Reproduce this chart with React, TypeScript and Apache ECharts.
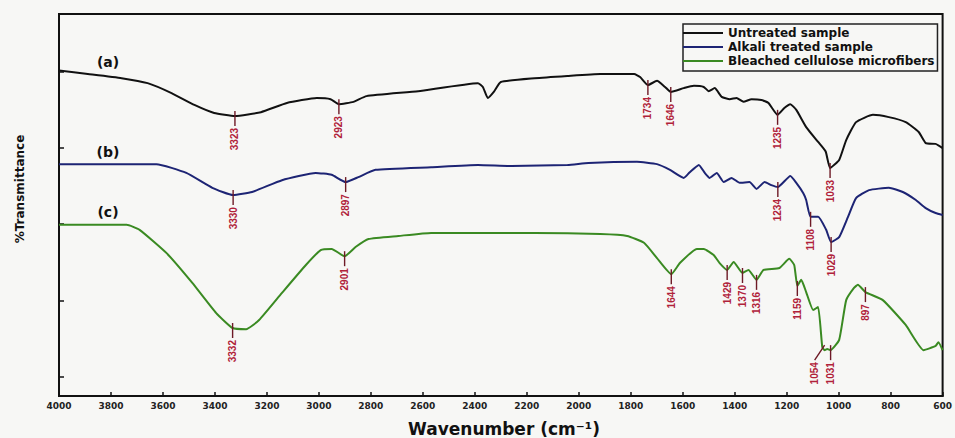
import React, { useEffect, useRef } from "react";
import * as echarts from "echarts";

const seriesNames = ["Untreated sample", "Alkali treated sample", "Bleached cellulose microfibers"];
const curveTags = ["(a)", "(b)", "(c)"];
const curveColors = ["#111111", "#1d2474", "#3a8a22"];

// Untreated sample (a)
const untreatedWn = [4000, 3889, 3759, 3659, 3567, 3479, 3403, 3323, 3223, 3123, 3008, 2955, 2923, 2867, 2817, 2618, 2388, 2369, 2350, 2327, 2300, 2170, 2044, 1917, 1787, 1764, 1734, 1699, 1668, 1646, 1596, 1557, 1519, 1500, 1477, 1450, 1419, 1393, 1366, 1335, 1297, 1270, 1235, 1209, 1186, 1163, 1125, 1079, 1050, 1033, 998, 971, 933, 868, 807, 742, 692, 665, 627, 600];
const untreatedT = [85.2, 84.3, 83.2, 81.9, 79.3, 76.2, 74.1, 73.3, 74.3, 76.7, 78.0, 77.7, 76.4, 77.0, 78.5, 79.8, 81.9, 80.9, 78.0, 79.6, 82.2, 83.2, 83.8, 84.3, 84.3, 83.5, 81.4, 82.5, 80.9, 79.6, 80.6, 81.2, 80.9, 79.8, 80.6, 78.3, 77.7, 78.0, 77.0, 77.7, 77.5, 76.7, 73.6, 75.4, 76.4, 74.9, 70.4, 66.5, 64.0, 59.7, 61.8, 67.0, 71.7, 73.6, 73.0, 71.7, 69.1, 66.2, 66.0, 64.9];
const untreatedPeaks = [3323, 2923, 1734, 1646, 1235, 1033];

// Alkali treated sample (b)
const alkaliWn = [4000, 3625, 3510, 3410, 3330, 3257, 3142, 3012, 2951, 2897, 2848, 2782, 2568, 2388, 2258, 2043, 1963, 1776, 1699, 1649, 1596, 1573, 1538, 1515, 1496, 1469, 1442, 1412, 1381, 1343, 1316, 1285, 1259, 1234, 1186, 1163, 1136, 1125, 1108, 1079, 1048, 1029, 998, 964, 933, 883, 807, 753, 703, 665, 627, 600];
const alkaliT = [60.7, 60.7, 58.4, 54.5, 52.6, 53.4, 56.5, 58.4, 57.9, 56.0, 57.3, 59.2, 59.9, 60.5, 60.2, 60.5, 61.0, 61.3, 60.7, 59.2, 57.1, 58.6, 60.5, 58.4, 57.1, 58.4, 56.0, 57.1, 55.8, 56.0, 54.2, 56.0, 55.2, 54.7, 57.6, 55.8, 53.1, 51.3, 46.9, 46.9, 43.5, 40.3, 41.6, 46.9, 51.8, 53.9, 54.5, 53.4, 51.3, 49.2, 47.9, 47.4];
const alkaliPeaks = [3330, 2897, 1234, 1108, 1029];

// Bleached cellulose microfibers (c)
const bleachedWn = [4000, 3740, 3690, 3586, 3487, 3395, 3332, 3280, 3230, 3142, 3050, 2993, 2951, 2901, 2859, 2809, 2694, 2568, 2388, 2170, 1917, 1814, 1749, 1699, 1644, 1611, 1546, 1519, 1481, 1458, 1429, 1404, 1370, 1347, 1316, 1289, 1228, 1190, 1171, 1159, 1144, 1125, 1098, 1079, 1063, 1054, 1044, 1031, 998, 971, 941, 926, 897, 830, 742, 673, 627, 616, 600];
const bleachedT = [44.8, 44.8, 43.5, 37.4, 29.6, 21.7, 17.8, 17.5, 19.9, 27.0, 34.3, 38.2, 38.5, 36.6, 39.0, 41.1, 41.9, 42.7, 42.7, 42.7, 42.4, 41.9, 40.1, 36.1, 31.9, 34.8, 38.5, 38.5, 36.9, 34.8, 33.0, 35.1, 32.2, 33.0, 30.4, 33.0, 33.5, 35.9, 34.3, 28.8, 30.4, 27.2, 22.5, 23.3, 12.8, 12.0, 12.3, 12.0, 14.7, 25.1, 28.3, 29.1, 27.2, 25.1, 18.6, 12.0, 13.1, 14.1, 12.0];
const bleachedPeaks = [3332, 2901, 1644, 1429, 1370, 1316, 1159, 1054, 1031, 897];

const yTickValues = [5, 25, 45, 65, 85];

const labelNudge: Record<number, number> = { 1054: -10 };

function valueAt(wn: number[], t: number[], w: number): number {
  const i = wn.indexOf(w);
  if (i >= 0) return t[i];
  for (let k = 0; k < wn.length - 1; k++) {
    if ((wn[k] - w) * (wn[k + 1] - w) <= 0) {
      const f = (w - wn[k]) / (wn[k + 1] - wn[k]);
      return t[k] + f * (t[k + 1] - t[k]);
    }
  }
  return t[t.length - 1];
}

export default function App() {
  const ref = useRef<HTMLDivElement>(null);
  useEffect(() => {
    document.body.style.margin = "0";
    if (!ref.current) return;
    const chart = echarts.init(ref.current, null, { renderer: "svg" });
    const curves = [
      { wn: untreatedWn, t: untreatedT, peaks: untreatedPeaks },
      { wn: alkaliWn, t: alkaliT, peaks: alkaliPeaks },
      { wn: bleachedWn, t: bleachedT, peaks: bleachedPeaks },
    ];
    const lineSeries = curves.map((c, i) => ({
      name: seriesNames[i],
      type: "line",
      data: c.wn.map((w, k) => [w, c.t[k]]),
      showSymbol: false,
      symbol: "none",
      smooth: 0.15,
      lineStyle: { color: curveColors[i], width: 2 },
      itemStyle: { color: curveColors[i] },
      z: 3,
    }));
    const peakSeries = curves.map((c, i) => ({
      name: "peaks-" + i,
      type: "custom",
      silent: true,
      clip: false,
      z: 6,
      data: c.peaks.map((w) => [w, valueAt(c.wn, c.t, w), labelNudge[w] || 0]),
      renderItem: (params: any, api: any) => {
        const w = api.value(0);
        const p = api.coord([w, api.value(1)]);
        const dx = api.value(2);
        return {
          type: "group",
          children: [
            {
              type: "line",
              shape: { x1: p[0], y1: p[1] - 5, x2: p[0] + dx, y2: p[1] + 10 },
              style: { stroke: "#6e1a26", lineWidth: 1.4 },
            },
            {
              type: "text",
              x: p[0] + dx,
              y: p[1] + 12,
              rotation: Math.PI / 2,
              style: {
                text: String(w),
                fill: "#b0223a",
                fontSize: 10,
                fontWeight: "bold",
                fontFamily: "Liberation Sans",
                align: "right",
                verticalAlign: "middle",
              },
            },
          ],
        };
      },
    }));

    chart.setOption({
      animation: false,
      backgroundColor: "#f7f7f5",
      grid: { left: 59, right: 8, top: 14, bottom: 42, show: true, borderColor: "#111", borderWidth: 2 },
      xAxis: {
        type: "value",
        min: 600,
        max: 4000,
        interval: 200,
        inverse: true,
        axisLine: { lineStyle: { color: "#111", width: 2 } },
        axisTick: { inside: true, length: 4, lineStyle: { color: "#111", width: 1.5 } },
        axisLabel: {
          fontSize: 9,
          fontWeight: "bold",
          fontFamily: "DejaVu Sans",
          color: "#222",
          margin: 5,
          formatter: (v: number) => String(v),
        },
        splitLine: { show: false },
      },
      yAxis: {
        type: "value",
        min: 0,
        max: 100,
        axisLine: { show: true, lineStyle: { color: "#111", width: 2 } },
        axisTick: { show: true, inside: true, length: 5, customValues: yTickValues, lineStyle: { color: "#111", width: 1.5 } },
        axisLabel: { show: false },
        splitLine: { show: false },
      },
      legend: {
        data: seriesNames,
        orient: "vertical",
        left: 683,
        top: 24,
        icon: "rect",
        itemWidth: 40,
        itemHeight: 2,
        itemGap: 0,
        padding: [2, 3, 3, 0],
        borderColor: "#222",
        borderWidth: 1.5,
        textStyle: { fontSize: 12, fontWeight: "bold", fontFamily: "DejaVu Sans", color: "#111", lineHeight: 14 },
      },
      graphic: [
        ...curveTags.map((tag, i) => ({
          type: "text",
          x: 108,
          y: [62, 152, 212][i],
          style: { text: tag, fill: "#111", fontSize: 14, fontWeight: "bold", fontFamily: "DejaVu Sans", align: "center", verticalAlign: "middle" },
        })),
        {
          type: "text",
          x: 20,
          y: 189,
          rotation: Math.PI / 2,
          style: { text: "%Transmittance", fill: "#111", fontSize: 12, fontWeight: "bold", fontFamily: "DejaVu Sans", align: "center", verticalAlign: "middle" },
        },
        {
          type: "text",
          x: 504,
          y: 429,
          style: { text: "Wavenumber (cm\u207B\u00B9)", fill: "#111", fontSize: 17, fontWeight: "bold", fontFamily: "DejaVu Sans", align: "center", verticalAlign: "middle" },
        },
      ],
      series: [...lineSeries, ...peakSeries],
    });
    return () => chart.dispose();
  }, []);
  return <div ref={ref} style={{ width: 955, height: 438 }} />;
}
